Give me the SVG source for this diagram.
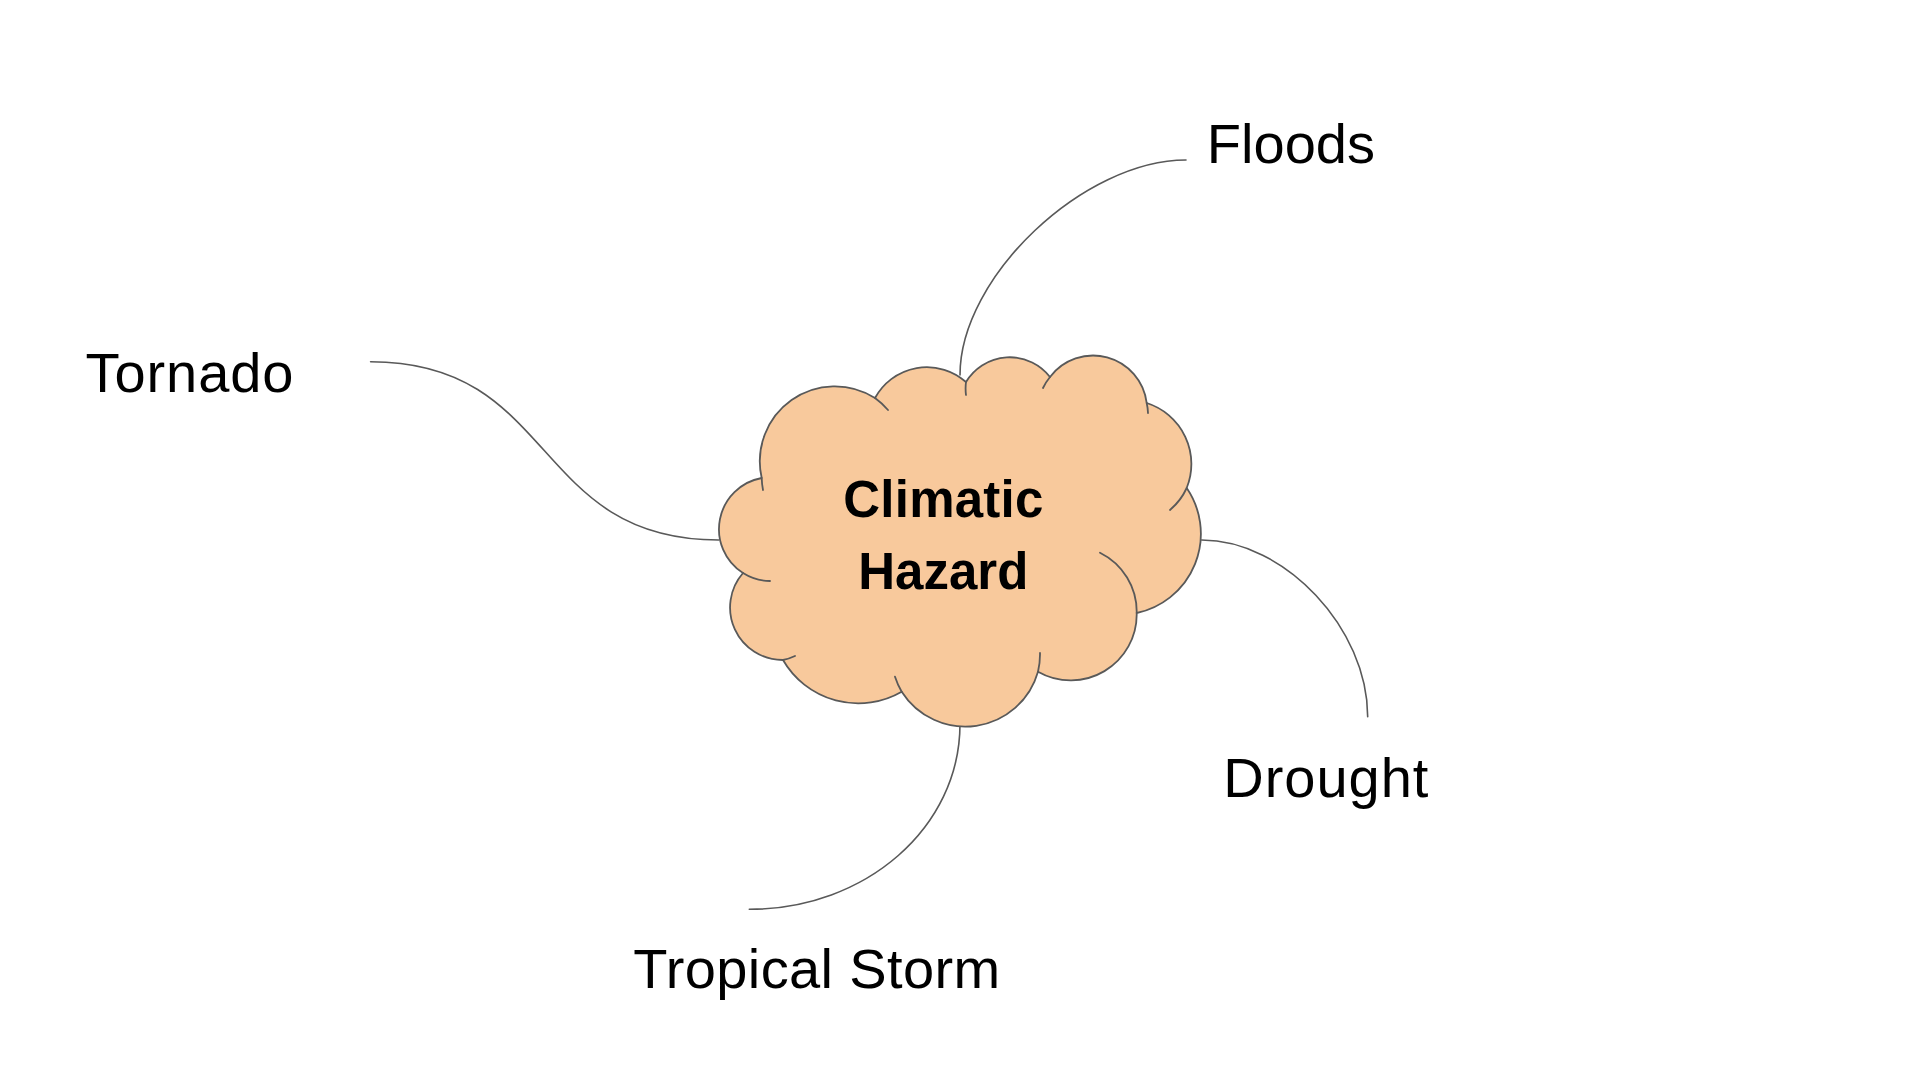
<svg xmlns="http://www.w3.org/2000/svg" width="1920" height="1080" viewBox="0 0 1920 1080">
  <style>
    .bg { fill: #ffffff; }
    .conn { fill: none; stroke: #595959; stroke-width: 1.6; stroke-linecap: round; }
    .cloud { fill: #F8C99C; stroke: #595959; stroke-width: 1.8; stroke-linejoin: round; }
    .stub { fill: none; stroke: #595959; stroke-width: 1.8; stroke-linecap: round; }
    .label { font-family: "Liberation Sans", Arial, sans-serif; font-size: 56px; fill: #000000; text-anchor: middle; }
    .title { font-family: "Liberation Sans", Arial, sans-serif; font-size: 51px; font-weight: bold; fill: #000000; text-anchor: middle; }
  </style>
  <rect class="bg" x="0" y="0" width="1920" height="1080"/>

  <g id="connectors">
    <path class="conn" d="M 1186 160 C 1084.3 160, 960 276.4, 960 375"/>
    <path class="conn" d="M 370.6 361.7 C 558 361.7, 531 540, 718.7 540"/>
    <path class="conn" d="M 1201.7 540 C 1284.7 540, 1367.7 628.3, 1367.7 716.7"/>
    <path class="conn" d="M 960 724 C 960 827.6, 865.7 909.3, 749.3 909.3"/>
  </g>

  <g id="node-climatic-hazard">
    <path class="cloud" d="M 761.7 478
      A 75 75 0 0 1 875 398
      A 59 59 0 0 1 966 382
      A 51 51 0 0 1 1050 377
      A 54 54 0 0 1 1146.7 403
      A 64 64 0 0 1 1186.7 488
      A 81 81 0 0 1 1136.7 613
      A 66 66 0 0 1 1038 671.7
      A 75.5 75.5 0 0 1 901.7 691.7
      A 87 87 0 0 1 783 660
      A 52.5 52.5 0 0 1 743 573
      A 52 52 0 0 1 761.7 478 Z"/>
    <path class="stub" d="M 761.7 478 A 75 75 0 0 0 763 490
      M 875 398 A 75 75 0 0 1 888 410
      M 966 382 A 51 51 0 0 0 966 395
      M 1050 377 A 54 54 0 0 0 1043 388
      M 1146.7 403 A 54 54 0 0 1 1148 413
      M 1186.7 488 A 64 64 0 0 1 1170 510
      M 1136.7 613 A 66 66 0 0 0 1100 552.7
      M 1038 671.7 A 75.5 75.5 0 0 0 1040 653
      M 901.7 691.7 A 75.5 75.5 0 0 1 895 676.7
      M 783 660 A 52.5 52.5 0 0 0 795 656
      M 743 573 A 52 52 0 0 0 770 581"/>
    <text class="title" x="943.3" y="516.7" textLength="200" lengthAdjust="spacing">Climatic</text>
    <text class="title" x="943.3" y="589.3" textLength="170" lengthAdjust="spacing">Hazard</text>
  </g>

  <g id="node-floods">
    <text class="label" x="1290.9" y="163.3">Floods</text>
  </g>
  <g id="node-tornado">
    <text class="label" x="189.5" y="391.7" textLength="208" lengthAdjust="spacing">Tornado</text>
  </g>
  <g id="node-drought">
    <text class="label" x="1325.8" y="796.7" textLength="205" lengthAdjust="spacing">Drought</text>
  </g>
  <g id="node-tropical-storm">
    <text class="label" x="816.7" y="988.3" textLength="367" lengthAdjust="spacing">Tropical Storm</text>
  </g>
</svg>
